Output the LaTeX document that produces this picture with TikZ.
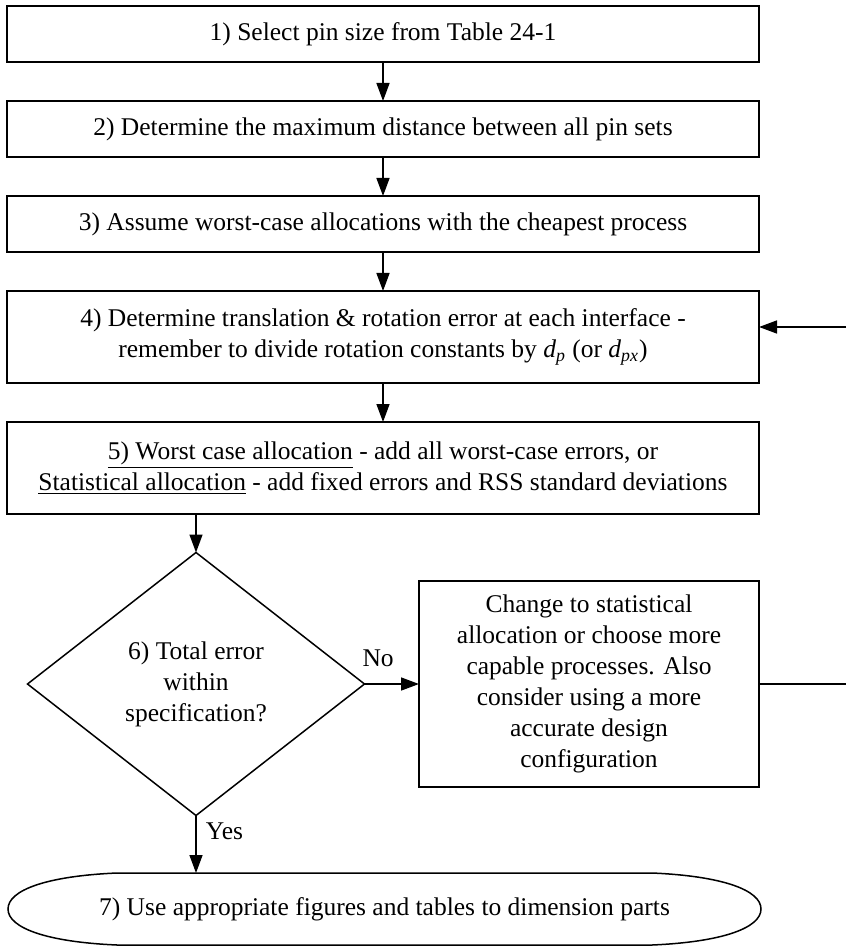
\documentclass[tikz,border=0pt]{standalone}
\usepackage{fontspec}
\setmainfont{Liberation Serif}
\usepackage{tikz}
\usetikzlibrary{arrows.meta,positioning,shapes.geometric,calc}

\begin{document}
\begin{tikzpicture}[x=0.5pt,y=-0.5pt,
  font=\fontsize{12.75pt}{15.5pt}\selectfont,
  stepbox/.style={draw,line width=0.75pt,minimum width=376pt,minimum height=28pt,align=center,inner sep=0pt,outer sep=0pt},
  tallbox/.style={stepbox,minimum height=46pt},
  arr/.style={line width=0.75pt,-{Triangle[length=9pt,width=6.5pt]}}]
\fill[white] (0,0) rectangle (846,946);
\useasboundingbox (0,0) rectangle (846,946);
\node[stepbox] (s1) at (383,34) {1) Select pin size from Table 24-1};
\node[stepbox,below=19.5pt of s1] (s2) {2) Determine the maximum distance between all pin sets};
\node[stepbox,below=19.5pt of s2] (s3) {3) Assume worst-case allocations with the cheapest process};
\node[tallbox,below=19.5pt of s3] (s4) {4) Determine translation \& rotation error at each interface -\\remember to divide rotation constants by \textit{d\textsubscript{p}} (or \textit{d\textsubscript{px}})};
\node[tallbox,below=19.5pt of s4] (s5) {\underline{5) Worst case allocation} - add all worst-case errors, or\\\underline{Statistical allocation} - add fixed errors and RSS standard deviations};
\node[draw,diamond,line width=0.75pt,minimum width=168.5pt,minimum height=131.5pt,inner sep=0pt,outer sep=0pt,align=center] (s6) at (196,684) {6) Total error\\within\\specification?};
\node[draw,line width=0.75pt,minimum width=170pt,minimum height=103pt,inner sep=0pt,outer sep=0pt,align=center] (fix) at (589,684) {Change to statistical\\allocation or choose more\\capable processes. Also\\consider using a more\\accurate design\\configuration};
\node[minimum width=376.5pt,minimum height=36pt,inner sep=0pt,outer sep=0pt] (s7) at (384.5,909) {7) Use appropriate figures and tables to dimension parts};
\draw[line width=0.75pt] (117,873) -- (652,873) .. controls (722,876) and (761,890) .. (761,909) .. controls (761,928) and (722,942) .. (652,945) -- (117,945) .. controls (47,942) and (8,928) .. (8,909) .. controls (8,890) and (47,876) .. (117,873);
\coordinate (ret) at (846,327);
\coordinate (out) at (846,684);
\draw[arr] (s1) -- (s2);
\draw[arr] (s2) -- (s3);
\draw[arr] (s3) -- (s4);
\draw[arr] (s4) -- (s5);
\draw[arr] (s6.north |- s5.south) -- (s6.north);
\draw[arr] (s6.east) -- node[above=5pt,pos=0.25] {No} (fix.west);
\draw[arr] (s6.south) -- node[right=1.25pt,pos=0.27] {Yes} (s6.south |- s7.north);
\draw[line width=0.75pt] (fix.east) -- (out);
\draw[arr] (ret) -- (ret -| s4.east);
\end{tikzpicture}
\end{document}
